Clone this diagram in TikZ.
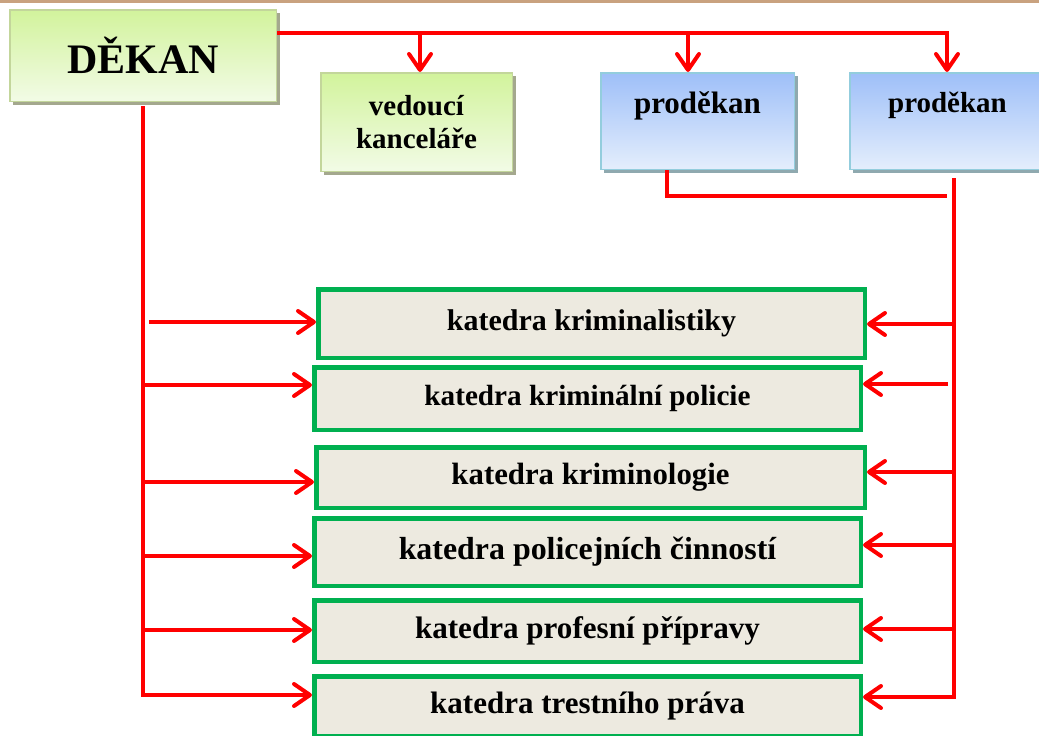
\documentclass[tikz,border=0pt]{standalone}
\usepackage{fontspec}
\setmainfont{Liberation Serif}
\usetikzlibrary{arrows.meta,shadows}
\definecolor{gTop}{HTML}{D2F39C}
\definecolor{gBot}{HTML}{F2FBE6}
\definecolor{gBorder}{HTML}{C3D69B}
\definecolor{gShadow}{HTML}{A4A88E}
\definecolor{bTop}{HTML}{9EBFF8}
\definecolor{bBot}{HTML}{E4EEFC}
\definecolor{bBorder}{HTML}{93CDDD}
\definecolor{bShadow}{HTML}{8FA9AF}
\definecolor{kGreen}{HTML}{00B050}
\definecolor{kFill}{HTML}{EDEAE0}
\definecolor{topLine}{HTML}{C9A27F}
\definecolor{rline}{HTML}{FF0000}
\begin{document}
\begin{tikzpicture}[x=1pt,y=-1pt,
  rl/.style={draw=rline, line width=4pt},
  arr/.style={rl, -{Straight Barb[length=16pt,width=22pt,round]}},
  gbox/.style={draw=gBorder, line width=1.5pt, top color=gTop, bottom color=gBot,
    drop shadow={shadow xshift=3.5pt, shadow yshift=-3.5pt, fill=gShadow, opacity=1},
    font=\bfseries, inner sep=0pt, align=center},
  bbox/.style={draw=bBorder, line width=1.5pt, top color=bTop, bottom color=bBot,
    drop shadow={shadow xshift=3.5pt, shadow yshift=-3.5pt, fill=bShadow, opacity=1},
    font=\bfseries, inner sep=0pt},
  kbox/.style={draw=kGreen, line width=4.5pt, fill=kFill, inner sep=0pt,
    minimum width=546.5pt},
  kfont/.style={font=\bfseries\fontsize{#1}{#1}\selectfont}
]
\useasboundingbox (0,0) rectangle (1039,736);
\fill[topLine] (0,0) rectangle (1039,2.5);

% top boxes
\node[gbox, minimum width=266.5pt, minimum height=91.5pt,
  font=\bfseries\fontsize{42}{42}\selectfont] (dekan) at (143,55.5) {DĚKAN};
\node[gbox, minimum width=191.5pt, minimum height=98.5pt,
  font=\bfseries\fontsize{29}{33}\selectfont] (vk) at (416.5,122) {vedoucí\\kanceláře};
\node[bbox, minimum width=193.5pt, minimum height=96.5pt, text height=40.25pt, text depth=56.25pt,
  font=\bfseries\fontsize{31}{31}\selectfont] (pd1) at (697.5,121) {proděkan};
\node[bbox, minimum width=195.5pt, minimum height=96.5pt, text height=39.25pt, text depth=57.25pt,
  font=\bfseries\fontsize{29}{29}\selectfont] (pd2) at (947.5,121) {proděkan};

% katedra boxes
\node[kbox, minimum height=68.5pt, kfont=30] (k1) at (591.5,323.5) {katedra kriminalistiky};
\node[kbox, minimum height=62.5pt, kfont=29.2] (k2) at (587.5,398.5) {katedra kriminální policie};
\node[kbox, minimum height=60.5pt, minimum width=548.5pt, kfont=30.8] (k3) at (590.5,477.5) {katedra kriminologie};
\node[kbox, minimum height=67.5pt, kfont=31.9] (k4) at (587.5,552) {katedra policejních činností};
\node[kbox, minimum height=61.5pt, kfont=31.1] (k5) at (587.5,631) {katedra profesní přípravy};
\node[kbox, minimum height=59.5pt, kfont=31] (k6) at (587.5,706) {katedra trestního práva};

% top connector
\draw[arr] (dekan.east |- 0,33) -| ([xshift=-0.5pt]pd2.north);
\draw[arr] (420,33) -- ([xshift=3.5pt]vk.north);
\draw[arr] (688,33) -- ([xshift=-9.5pt]pd1.north);

% bottom of proděkan 1
\draw[rl] ([xshift=-30.5pt]pd1.south) |- (947,196);

% right bus
\draw[arr] (953.5,178) |- (k6.east |- 0,697);
\draw[arr] (953.5,324) -- (k1.east |- 0,324);
\draw[arr] (948,384) -- (k2.east |- 0,384);
\draw[arr] (953.5,472) -- (k3.east |- 0,472);
\draw[arr] (953.5,545) -- (k4.east |- 0,545);
\draw[arr] (953.5,629) -- (k5.east |- 0,629);

% left bus
\draw[arr] (dekan.south |- 0,106) |- (k6.west |- 0,695);
\draw[arr] (149,322) -- (k1.west |- 0,322);
\draw[arr] (143,385) -- (k2.west |- 0,385);
\draw[arr] (143,482) -- (k3.west |- 0,482);
\draw[arr] (143,556) -- (k4.west |- 0,556);
\draw[arr] (143,630) -- (k5.west |- 0,630);
\end{tikzpicture}
\end{document}
